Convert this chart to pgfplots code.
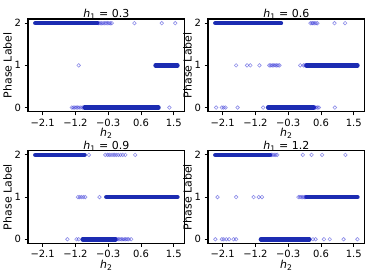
\documentclass[border=0pt]{standalone}
\usepackage{fontspec}
\setmainfont{DejaVu Sans}
\usepackage{pgfplots}
\pgfplotsset{compat=1.18}
\usepgfplotslibrary{groupplots}
\definecolor{densec}{RGB}{28,44,178}
\definecolor{sparsec}{RGB}{30,30,210}
\pgfplotsset{
  dpt/.style={densec, line width=4.5pt, line cap=round, line join=round, no marks},
  spt/.style={only marks, mark=o, mark size=1.8pt, color=sparsec, mark options={solid, draw=sparsec, draw opacity=0.5, line width=0.6pt}},
}
\begin{document}
\begin{tikzpicture}
\begin{groupplot}[
  group style={group size=2 by 2, horizontal sep=23.4pt, vertical sep=39pt},
  width=157pt, height=93pt, scale only axis,
  xmin=-2.5, xmax=1.8, ymin=-0.1, ymax=2.1,
  xtick={-2.1,-1.2,-0.3,0.6,1.5}, xticklabels={−2.1,−1.2,−0.3,0.6,1.5},
  ytick={0,1,2}, yticklabels={0,1,2},
  tick align=outside, major tick length=3.5pt,
  xtick pos=left, ytick pos=left,
  tick style={black, line width=0.9pt},
  axis line style={black, line width=1.2pt},
  ticklabel style={font=\fontsize{10}{12}\selectfont},
  label style={font=\fontsize{11}{13}\selectfont},
  title style={font=\fontsize{11}{13}\selectfont, yshift=-10pt},
  xlabel={\textit{h}\textsubscript{2}}, ylabel={Phase Label},
  xlabel style={yshift=5pt}, ylabel shift=-4pt,
]
% ---------------- h1 = 0.3
\nextgroupplot[title={\textit{h}\textsubscript{1} = 0.3}]
\addplot[spt] coordinates {(-0.56,2)(-0.52,2)(-0.48,2)(-0.44,2)(-0.40,2)(-0.36,2)(-0.32,2)(-0.28,2)(-0.24,2)(-0.20,2)(0.42,2)(1.17,2)(1.54,2)
(-1.11,1)
(-1.30,0)(-1.26,0)(-1.22,0)(-1.18,0)(-1.14,0)(-1.10,0)(-1.05,0)(-1.00,0)(1.38,0)};
\addplot[dpt] coordinates {(-2.30,2)(-2.25,2)(-2.20,2)(-2.15,2)(-2.10,2)(-2.05,2)(-2.00,2)(-1.95,2)(-1.90,2)(-1.85,2)(-1.80,2)(-1.75,2)(-1.70,2)(-1.65,2)(-1.60,2)(-1.55,2)(-1.50,2)(-1.45,2)(-1.40,2)(-1.35,2)(-1.30,2)(-1.25,2)(-1.20,2)(-1.15,2)(-1.10,2)(-1.05,2)(-1.00,2)(-0.95,2)(-0.90,2)(-0.85,2)(-0.80,2)(-0.75,2)(-0.70,2)(-0.65,2)(-0.60,2)};
\addplot[dpt] coordinates {(1.00,1)(1.05,1)(1.10,1)(1.15,1)(1.20,1)(1.25,1)(1.30,1)(1.35,1)(1.40,1)(1.45,1)(1.50,1)(1.55,1)(1.60,1)};
\addplot[dpt] coordinates {(-0.95,0)(-0.90,0)(-0.85,0)(-0.80,0)(-0.75,0)(-0.70,0)(-0.65,0)(-0.60,0)(-0.55,0)(-0.50,0)(-0.45,0)(-0.40,0)(-0.35,0)(-0.30,0)(-0.25,0)(-0.20,0)(-0.15,0)(-0.10,0)(-0.05,0)(0.00,0)(0.05,0)(0.10,0)(0.15,0)(0.20,0)(0.25,0)(0.30,0)(0.35,0)(0.40,0)(0.45,0)(0.50,0)(0.55,0)(0.60,0)(0.65,0)(0.70,0)(0.75,0)(0.80,0)(0.85,0)(0.90,0)(0.95,0)(1.00,0)(1.05,0)(1.08,0)};
% ---------------- h1 = 0.6
\nextgroupplot[title={\textit{h}\textsubscript{1} = 0.6}]
\addplot[spt] coordinates {(0.31,2)(0.35,2)(0.38,2)(0.42,2)(0.46,2)(0.50,2)(0.97,2)(1.26,2)
(-1.73,1)(-1.43,1)(-1.34,1)(-1.09,1)(-0.82,1)(-0.78,1)(-0.74,1)(-0.70,1)(-0.66,1)(-0.62,1)(-0.58,1)(-0.54,1)(0.03,1)(0.12,1)(0.16,1)
(-2.28,0)(-2.12,0)(-2.07,0)(-2.02,0)(-1.69,0)(-0.99,0)(0.42,0)(0.46,0)(0.50,0)(0.54,0)(0.98,0)};
\addplot[dpt] coordinates {(-2.30,2)(-2.25,2)(-2.20,2)(-2.15,2)(-2.10,2)(-2.05,2)(-2.00,2)(-1.95,2)(-1.90,2)(-1.85,2)(-1.80,2)(-1.75,2)(-1.70,2)(-1.65,2)(-1.60,2)(-1.55,2)(-1.50,2)(-1.45,2)(-1.40,2)(-1.35,2)(-1.30,2)(-1.25,2)(-1.20,2)(-1.15,2)(-1.10,2)(-1.05,2)(-1.00,2)(-0.95,2)(-0.90,2)(-0.85,2)(-0.80,2)(-0.75,2)(-0.70,2)(-0.65,2)(-0.60,2)(-0.55,2)(-0.50,2)};
\addplot[dpt] coordinates {(0.20,1)(0.25,1)(0.30,1)(0.35,1)(0.40,1)(0.45,1)(0.50,1)(0.55,1)(0.60,1)(0.65,1)(0.70,1)(0.75,1)(0.80,1)(0.85,1)(0.90,1)(0.95,1)(1.00,1)(1.05,1)(1.10,1)(1.15,1)(1.20,1)(1.25,1)(1.30,1)(1.35,1)(1.40,1)(1.45,1)(1.50,1)(1.55,1)(1.60,1)};
\addplot[dpt] coordinates {(-0.85,0)(-0.80,0)(-0.75,0)(-0.70,0)(-0.65,0)(-0.60,0)(-0.55,0)(-0.50,0)(-0.45,0)(-0.40,0)(-0.35,0)(-0.30,0)(-0.25,0)(-0.20,0)(-0.15,0)(-0.10,0)(-0.05,0)(0.00,0)(0.05,0)(0.10,0)(0.15,0)(0.20,0)(0.25,0)(0.30,0)(0.35,0)(0.40,0)};
% ---------------- h1 = 0.9
\nextgroupplot[title={\textit{h}\textsubscript{1} = 0.9}]
\addplot[spt] coordinates {(-0.83,2)(-0.38,2)(-0.32,2)(-0.27,2)(-0.22,2)(-0.17,2)(-0.12,2)(-0.07,2)(-0.02,2)(0.04,2)(0.10,2)(0.17,2)(0.44,2)
(-1.13,1)(-1.08,1)(-1.03,1)(-0.98,1)(-0.93,1)(-0.54,1)
(-1.42,0)(-1.17,0)(-1.11,0)(-0.06,0)(-0.02,0)(0.02,0)(0.06,0)(0.10,0)(0.14,0)(0.18,0)(0.22,0)(0.26,0)(0.33,0)};
\addplot[dpt] coordinates {(-2.30,2)(-2.25,2)(-2.20,2)(-2.15,2)(-2.10,2)(-2.05,2)(-2.00,2)(-1.95,2)(-1.90,2)(-1.85,2)(-1.80,2)(-1.75,2)(-1.70,2)(-1.65,2)(-1.60,2)(-1.55,2)(-1.50,2)(-1.45,2)(-1.40,2)(-1.35,2)(-1.30,2)(-1.25,2)(-1.20,2)(-1.15,2)(-1.10,2)(-1.05,2)(-1.00,2)(-0.95,2)};
\addplot[dpt] coordinates {(-0.35,1)(-0.30,1)(-0.25,1)(-0.20,1)(-0.15,1)(-0.10,1)(-0.05,1)(0.00,1)(0.05,1)(0.10,1)(0.15,1)(0.20,1)(0.25,1)(0.30,1)(0.35,1)(0.40,1)(0.45,1)(0.50,1)(0.55,1)(0.60,1)(0.65,1)(0.70,1)(0.75,1)(0.80,1)(0.85,1)(0.90,1)(0.95,1)(1.00,1)(1.05,1)(1.10,1)(1.15,1)(1.20,1)(1.25,1)(1.30,1)(1.35,1)(1.40,1)(1.45,1)(1.50,1)(1.55,1)(1.60,1)};
\addplot[dpt] coordinates {(-1.00,0)(-0.95,0)(-0.90,0)(-0.85,0)(-0.80,0)(-0.75,0)(-0.70,0)(-0.65,0)(-0.60,0)(-0.55,0)(-0.50,0)(-0.45,0)(-0.40,0)(-0.35,0)(-0.30,0)(-0.25,0)(-0.20,0)(-0.15,0)(-0.10,0)};
% ---------------- h1 = 1.2
\nextgroupplot[title={\textit{h}\textsubscript{1} = 1.2}]
\addplot[spt] coordinates {(-0.76,2)(-0.72,2)(-0.68,2)(-0.64,2)(-0.60,2)(0.10,2)(0.34,2)(0.63,2)(1.27,2)
(-2.24,1)(-1.73,1)(-1.25,1)(-1.11,1)(-1.02,1)(-0.02,1)(0.02,1)(0.06,1)(0.10,1)(0.14,1)(0.17,1)
(-2.30,0)(-2.12,0)(-2.07,0)(-2.00,0)(-1.92,0)(-1.80,0)(-1.73,0)(0.38,0)(0.45,0)(0.68,0)(0.84,0)(1.22,0)(1.60,0)};
\addplot[dpt] coordinates {(-2.30,2)(-2.25,2)(-2.20,2)(-2.15,2)(-2.10,2)(-2.05,2)(-2.00,2)(-1.95,2)(-1.90,2)(-1.85,2)(-1.80,2)(-1.75,2)(-1.70,2)(-1.65,2)(-1.60,2)(-1.55,2)(-1.50,2)(-1.45,2)(-1.40,2)(-1.35,2)(-1.30,2)(-1.25,2)(-1.20,2)(-1.15,2)(-1.10,2)(-1.05,2)(-1.00,2)(-0.95,2)(-0.90,2)(-0.85,2)(-0.80,2)};
\addplot[dpt] coordinates {(0.20,1)(0.25,1)(0.30,1)(0.35,1)(0.40,1)(0.45,1)(0.50,1)(0.55,1)(0.60,1)(0.65,1)(0.70,1)(0.75,1)(0.80,1)(0.85,1)(0.90,1)(0.95,1)(1.00,1)(1.05,1)(1.10,1)(1.15,1)(1.20,1)(1.25,1)(1.30,1)(1.35,1)(1.40,1)(1.45,1)(1.50,1)(1.55,1)(1.60,1)};
\addplot[dpt] coordinates {(-1.05,0)(-1.00,0)(-0.95,0)(-0.90,0)(-0.85,0)(-0.80,0)(-0.75,0)(-0.70,0)(-0.65,0)(-0.60,0)(-0.55,0)(-0.50,0)(-0.45,0)(-0.40,0)(-0.35,0)(-0.30,0)(-0.25,0)(-0.20,0)(-0.15,0)(-0.10,0)(-0.05,0)(0.00,0)(0.05,0)(0.10,0)(0.15,0)(0.20,0)(0.25,0)(0.28,0)};
\end{groupplot}
\path (group c1r1.north west) ++(-27.3pt,19pt) coordinate (bbA);
\path (group c1r1.north west) ++(353.7pt,-259pt) coordinate (bbB);
\path (bbA) rectangle (bbB);
\end{tikzpicture}
\end{document}
